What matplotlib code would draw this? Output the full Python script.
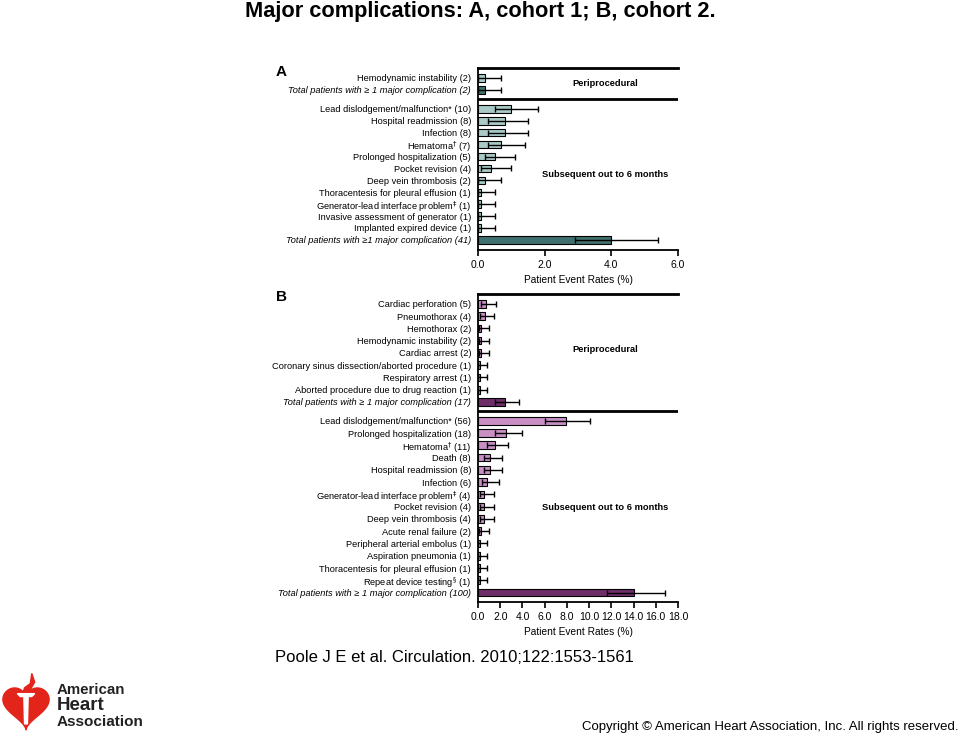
import numpy as np
import matplotlib
matplotlib.use("Agg")
import matplotlib.pyplot as plt
from matplotlib.patches import Polygon

plt.rcParams["font.family"] = ["Liberation Sans", "DejaVu Sans"]

# Cohort 1 (panel A)
A_PERI_LABELS = ["Hemodynamic instability (2)",
                 "TOTAL_A_PERI"]
A_PERI_RATE = [0.2, 0.2]
A_PERI_LO = [0.0, 0.0]
A_PERI_HI = [0.7, 0.7]

A_SUB_LABELS = ["Lead dislodgement/malfunction* (10)",
                "Hospital readmission (8)",
                "Infection (8)",
                "Hematoma$^{\\dagger}$ (7)",
                "Prolonged hospitalization (5)",
                "Pocket revision (4)",
                "Deep vein thrombosis (2)",
                "Thoracentesis for pleural effusion (1)",
                "Generator-lead interface problem$^{\\ddagger}$ (1)",
                "Invasive assessment of generator (1)",
                "Implanted expired device (1)",
                "TOTAL_A_SUB"]
A_SUB_RATE = [1.0, 0.8, 0.8, 0.7, 0.5, 0.4, 0.2, 0.1, 0.1, 0.1, 0.1, 4.0]
A_SUB_LO = [0.5, 0.3, 0.3, 0.3, 0.2, 0.1, 0.0, 0.0, 0.0, 0.0, 0.0, 2.9]
A_SUB_HI = [1.8, 1.5, 1.5, 1.4, 1.1, 1.0, 0.7, 0.5, 0.5, 0.5, 0.5, 5.4]

# Cohort 2 (panel B)
B_PERI_LABELS = ["Cardiac perforation (5)",
                 "Pneumothorax (4)",
                 "Hemothorax (2)",
                 "Hemodynamic instability (2)",
                 "Cardiac arrest (2)",
                 "Coronary sinus dissection/aborted procedure (1)",
                 "Respiratory arrest (1)",
                 "Aborted procedure due to drug reaction (1)",
                 "TOTAL_B_PERI"]
B_PERI_RATE = [0.7, 0.6, 0.3, 0.3, 0.3, 0.14, 0.14, 0.14, 2.4]
B_PERI_LO = [0.3, 0.2, 0.05, 0.05, 0.05, 0.02, 0.02, 0.02, 1.5]
B_PERI_HI = [1.6, 1.4, 1.0, 1.0, 1.0, 0.8, 0.8, 0.8, 3.7]

B_SUB_LABELS = ["Lead dislodgement/malfunction* (56)",
                "Prolonged hospitalization (18)",
                "Hematoma$^{\\dagger}$ (11)",
                "Death (8)",
                "Hospital readmission (8)",
                "Infection (6)",
                "Generator-lead interface problem$^{\\ddagger}$ (4)",
                "Pocket revision (4)",
                "Deep vein thrombosis (4)",
                "Acute renal failure (2)",
                "Peripheral arterial embolus (1)",
                "Aspiration pneumonia (1)",
                "Thoracentesis for pleural effusion (1)",
                "Repeat device testing$^{\\S}$ (1)",
                "TOTAL_B_SUB"]
B_SUB_RATE = [7.9, 2.5, 1.5, 1.1, 1.1, 0.8, 0.55, 0.55, 0.55, 0.3, 0.14, 0.14, 0.14, 0.14, 14.0]
B_SUB_LO = [6.0, 1.5, 0.8, 0.55, 0.55, 0.35, 0.2, 0.2, 0.2, 0.05, 0.02, 0.02, 0.02, 0.02, 11.6]
B_SUB_HI = [10.1, 4.0, 2.7, 2.2, 2.2, 1.9, 1.4, 1.4, 1.4, 1.0, 0.8, 0.8, 0.8, 0.8, 16.8]

TOTAL_TEXT = {
    "TOTAL_A_PERI": "Total patients with ≥ 1 major complication (2)",
    "TOTAL_A_SUB": "Total patients with ≥1 major complication (41)",
    "TOTAL_B_PERI": "Total patients with ≥ 1 major complication (17)",
    "TOTAL_B_SUB": "Total patients with ≥ 1 major complication (100)",
}

A_TICKS = [0, 2, 4, 6]
B_TICKS = [0, 2, 4, 6, 8, 10, 12, 14, 16, 18]


def draw_panel(ax, peri, sub, gap, light, dark, xmax, ticks, ylim, peri_y, sub_y):
    n_peri = len(peri[0])
    peri_pos = np.arange(n_peri, dtype=float)
    sub_pos = n_peri - 1 + gap + np.arange(len(sub[0]), dtype=float)
    pos = np.concatenate([peri_pos, sub_pos])
    labels = list(peri[0]) + list(sub[0])
    rate = np.array(list(peri[1]) + list(sub[1]))
    lo = np.array(list(peri[2]) + list(sub[2]))
    hi = np.array(list(peri[3]) + list(sub[3]))

    colors = [dark if lab in TOTAL_TEXT else light for lab in labels]
    ax.barh(pos, rate, height=0.62, color=colors, edgecolor="black", linewidth=0.8, zorder=2)
    ax.errorbar(rate, pos, xerr=[rate - lo, hi - rate], fmt="none", ecolor="black",
                elinewidth=1.0, capsize=2.3, capthick=1.0, zorder=3)

    ax.set_yticks(pos)
    ax.set_yticklabels([TOTAL_TEXT.get(l, l) for l in labels], fontsize=6.7)
    for tl, lab in zip(ax.get_yticklabels(), labels):
        if lab in TOTAL_TEXT:
            tl.set_fontstyle("italic")
    ax.tick_params(axis="y", length=0, pad=5)
    ax.set_ylim(*ylim)

    ax.set_xlim(0, xmax)
    ax.set_xticks(ticks)
    ax.set_xticklabels([f"{t:.1f}" for t in ticks], fontsize=7.5)
    ax.tick_params(axis="x", length=4, width=1.2, direction="out", pad=3)
    ax.set_xlabel("Patient Event Rates (%)", fontsize=7.3, labelpad=4)

    ax.spines["right"].set_visible(False)
    for s in ["left", "bottom"]:
        ax.spines[s].set_linewidth(1.3)
    ax.spines["top"].set_linewidth(2.0)
    sep = n_peri - 1 + gap * 0.5
    ax.axhline(sep, color="black", linewidth=2.0, zorder=4)
    trans = ax.get_yaxis_transform()
    ax.text(0.635, peri_y, "Periprocedural", transform=trans, fontsize=6.7,
            fontweight="bold", ha="center", va="center")
    ax.text(0.635, sub_y, "Subsequent out to 6 months", transform=trans, fontsize=6.7,
            fontweight="bold", ha="center", va="center")


fig = plt.figure(figsize=(9.6, 7.36), dpi=100)
W, H = 960.0, 736.0

axA = fig.add_axes([478 / W, 1 - 250 / H, 200 / W, 182 / H])
draw_panel(axA, (A_PERI_LABELS, A_PERI_RATE, A_PERI_LO, A_PERI_HI),
           (A_SUB_LABELS, A_SUB_RATE, A_SUB_LO, A_SUB_HI),
           gap=1.6, light="#a8cbc8", dark="#40706d", xmax=6.0, ticks=A_TICKS,
           ylim=(14.45, -0.84), peri_y=0.5, sub_y=8.07)

axB = fig.add_axes([478 / W, 1 - 602 / H, 200 / W, 308 / H])
draw_panel(axB, (B_PERI_LABELS, B_PERI_RATE, B_PERI_LO, B_PERI_HI),
           (B_SUB_LABELS, B_SUB_RATE, B_SUB_LO, B_SUB_HI),
           gap=1.53, light="#c98fc5", dark="#6d2d69", xmax=18.0, ticks=B_TICKS,
           ylim=(24.3, -0.8), peri_y=3.75, sub_y=16.6)

fig.text(480 / W, 1 - 12 / H, "Major complications: A, cohort 1; B, cohort 2.",
         fontsize=15.7, fontweight="bold", ha="center", va="center")
fig.text(276 / W, 1 - 72 / H, "A", fontsize=11, fontweight="bold", ha="left", va="center")
fig.text(276 / W, 1 - 297 / H, "B", fontsize=11, fontweight="bold", ha="left", va="center")

fig.text(275 / W, 1 - 657 / H, "Poole J E et al. Circulation. 2010;122:1553-1561",
         fontsize=12, ha="left", va="center")
fig.text(958 / W, 1 - 727 / H,
         "Copyright © American Heart Association, Inc. All rights reserved.",
         fontsize=9.5, ha="right", va="center")

# logo
logo = fig.add_axes([0 / W, 1 - 734 / H, 52 / W, 62 / H])
logo.set_xlim(-18, 18)
logo.set_ylim(-20, 23)
logo.axis("off")
t = np.linspace(0, 2 * np.pi, 200)
hx = 16 * np.sin(t) ** 3
hy = 13 * np.cos(t) - 5 * np.cos(2 * t) - 2 * np.cos(3 * t) - np.cos(4 * t)
logo.fill(hx, hy, color="#e3241b")
logo.add_patch(Polygon([[-1.5, 6], [1.5, 6], [1, -13], [-1, -13]], color="white"))
logo.add_patch(Polygon([[-6, 8], [6, 8], [4, 6], [-4, 6]], color="white"))
logo.add_patch(Polygon([[-2, 9], [2, 9], [6, 16], [4, 22], [3, 15], [-1, 12]], color="#e3241b"))

fig.text(57 / W, 1 - 690 / H, "American", fontsize=10.8, fontweight="bold",
         color="#222222", ha="left", va="center")
fig.text(57 / W, 1 - 706 / H, "Heart", fontsize=13.5, fontweight="bold",
         color="#222222", ha="left", va="center")
fig.text(57 / W, 1 - 722 / H, "Association", fontsize=11, fontweight="bold",
         color="#222222", ha="left", va="center")

fig.savefig("out.png", dpi=100)
